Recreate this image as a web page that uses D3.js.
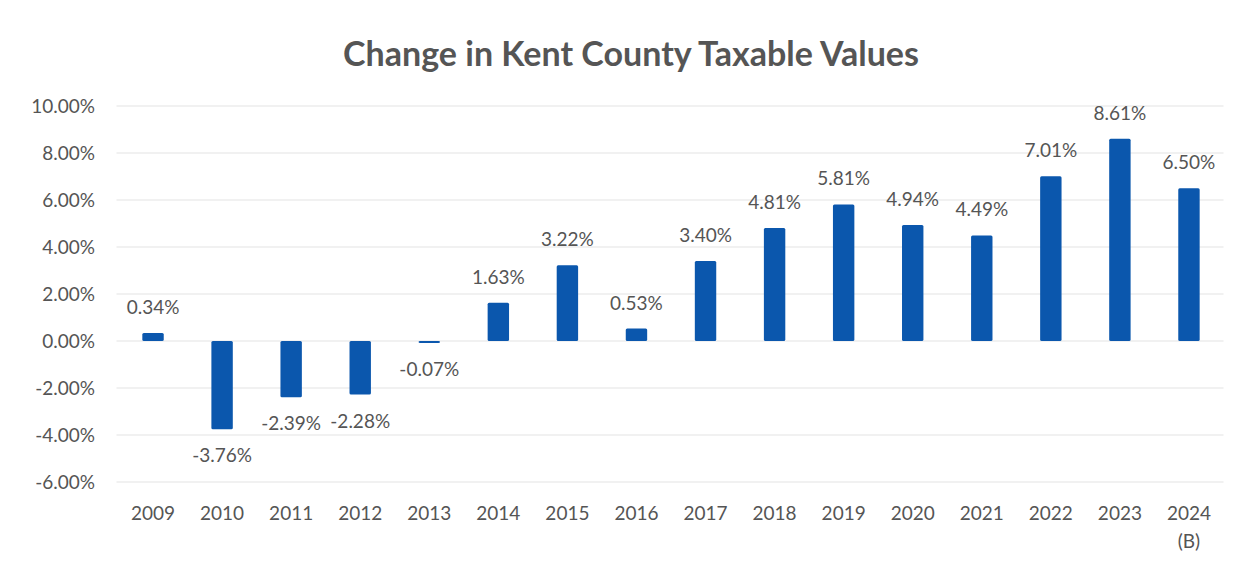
<!DOCTYPE html>
<html lang="en">
<head>
<meta charset="utf-8">
<title>Change in Kent County Taxable Values</title>
<script src="https://cdn.jsdelivr.net/npm/d3@7"></script>
<style>
  body { margin: 0; background: #fff; }
  text { font-family: Lato, "Open Sans", sans-serif; fill: #555555; }
</style>
</head>
<body>
<div id="chart"></div>
<script>
var years = ["2009","2010","2011","2012","2013","2014","2015","2016","2017","2018","2019","2020","2021","2022","2023","2024"];
var yearNotes = ["","","","","","","","","","","","","","","","(B)"];
var changes = [0.34,-3.76,-2.39,-2.28,-0.07,1.63,3.22,0.53,3.40,4.81,5.81,4.94,4.49,7.01,8.61,6.50];
var yTicks = [-6,-4,-2,0,2,4,6,8,10];

var w = 1254, h = 571;
var plotLeft = 118.5, plotRight = 1223.5, plotTop = 106, plotBottom = 482;
var labelSize = 19;

var svg = d3.select("#chart").append("svg")
  .attr("width", w).attr("height", h);

var x = d3.scaleBand()
  .domain(years)
  .range([plotLeft, plotRight])
  .paddingInner(0.69)
  .paddingOuter(0.345);

var y = d3.scaleLinear()
  .domain([-6, 10])
  .range([plotBottom, plotTop]);

// gridlines
svg.append("g")
  .selectAll("line")
  .data(yTicks)
  .enter()
  .append("line")
  .attr("x1", plotLeft - 2)
  .attr("x2", plotRight)
  .attr("y1", d => y(d))
  .attr("y2", d => y(d))
  .attr("stroke", "#ececec")
  .attr("stroke-width", 1.5);

// y axis labels
var yAxis = d3.axisLeft(y)
  .tickValues(yTicks)
  .tickSize(0)
  .tickPadding(0)
  .tickFormat(d => d.toFixed(2) + "%");

svg.append("g")
  .attr("transform", "translate(95,0)")
  .call(yAxis)
  .call(g => g.select(".domain").remove())
  .selectAll("text")
  .attr("font-size", labelSize)
  .style("font-family", "Lato, 'Open Sans', sans-serif")
  .attr("fill", "#555555");

// bars
svg.append("g")
  .selectAll("rect")
  .data(changes)
  .enter()
  .append("rect")
  .attr("x", (d, i) => x(years[i]))
  .attr("width", x.bandwidth())
  .attr("y", d => y(Math.max(d, 0)))
  .attr("height", d => Math.max(Math.abs(y(d) - y(0)), 2))
  .attr("rx", 1.5)
  .attr("fill", "#0b57ad");

// data labels
svg.append("g")
  .selectAll("text")
  .data(changes)
  .enter()
  .append("text")
  .attr("x", (d, i) => x(years[i]) + x.bandwidth() / 2)
  .attr("y", d => d >= 0 ? y(d) - 19 : y(d) + 33)
  .attr("text-anchor", "middle")
  .attr("font-size", labelSize)
  .text(d => d.toFixed(2) + "%");

// x axis labels
var xAxis = d3.axisBottom(x).tickSize(0).tickPadding(0);
svg.append("g")
  .attr("transform", "translate(0,506)")
  .call(xAxis)
  .call(g => g.select(".domain").remove())
  .selectAll("text")
  .attr("font-size", labelSize)
  .attr("dy", "0.71em")
  .style("font-family", "Lato, 'Open Sans', sans-serif")
  .attr("fill", "#555555");

svg.append("g")
  .selectAll("text")
  .data(yearNotes)
  .enter()
  .append("text")
  .attr("x", (d, i) => x(years[i]) + x.bandwidth() / 2)
  .attr("y", 548)
  .attr("text-anchor", "middle")
  .attr("font-size", labelSize)
  .text(d => d);

// title
svg.append("text")
  .attr("x", 631)
  .attr("y", 66)
  .attr("text-anchor", "middle")
  .attr("font-size", 34)
  .attr("font-weight", "bold")
  .text("Change in Kent County Taxable Values");
</script>
</body>
</html>
